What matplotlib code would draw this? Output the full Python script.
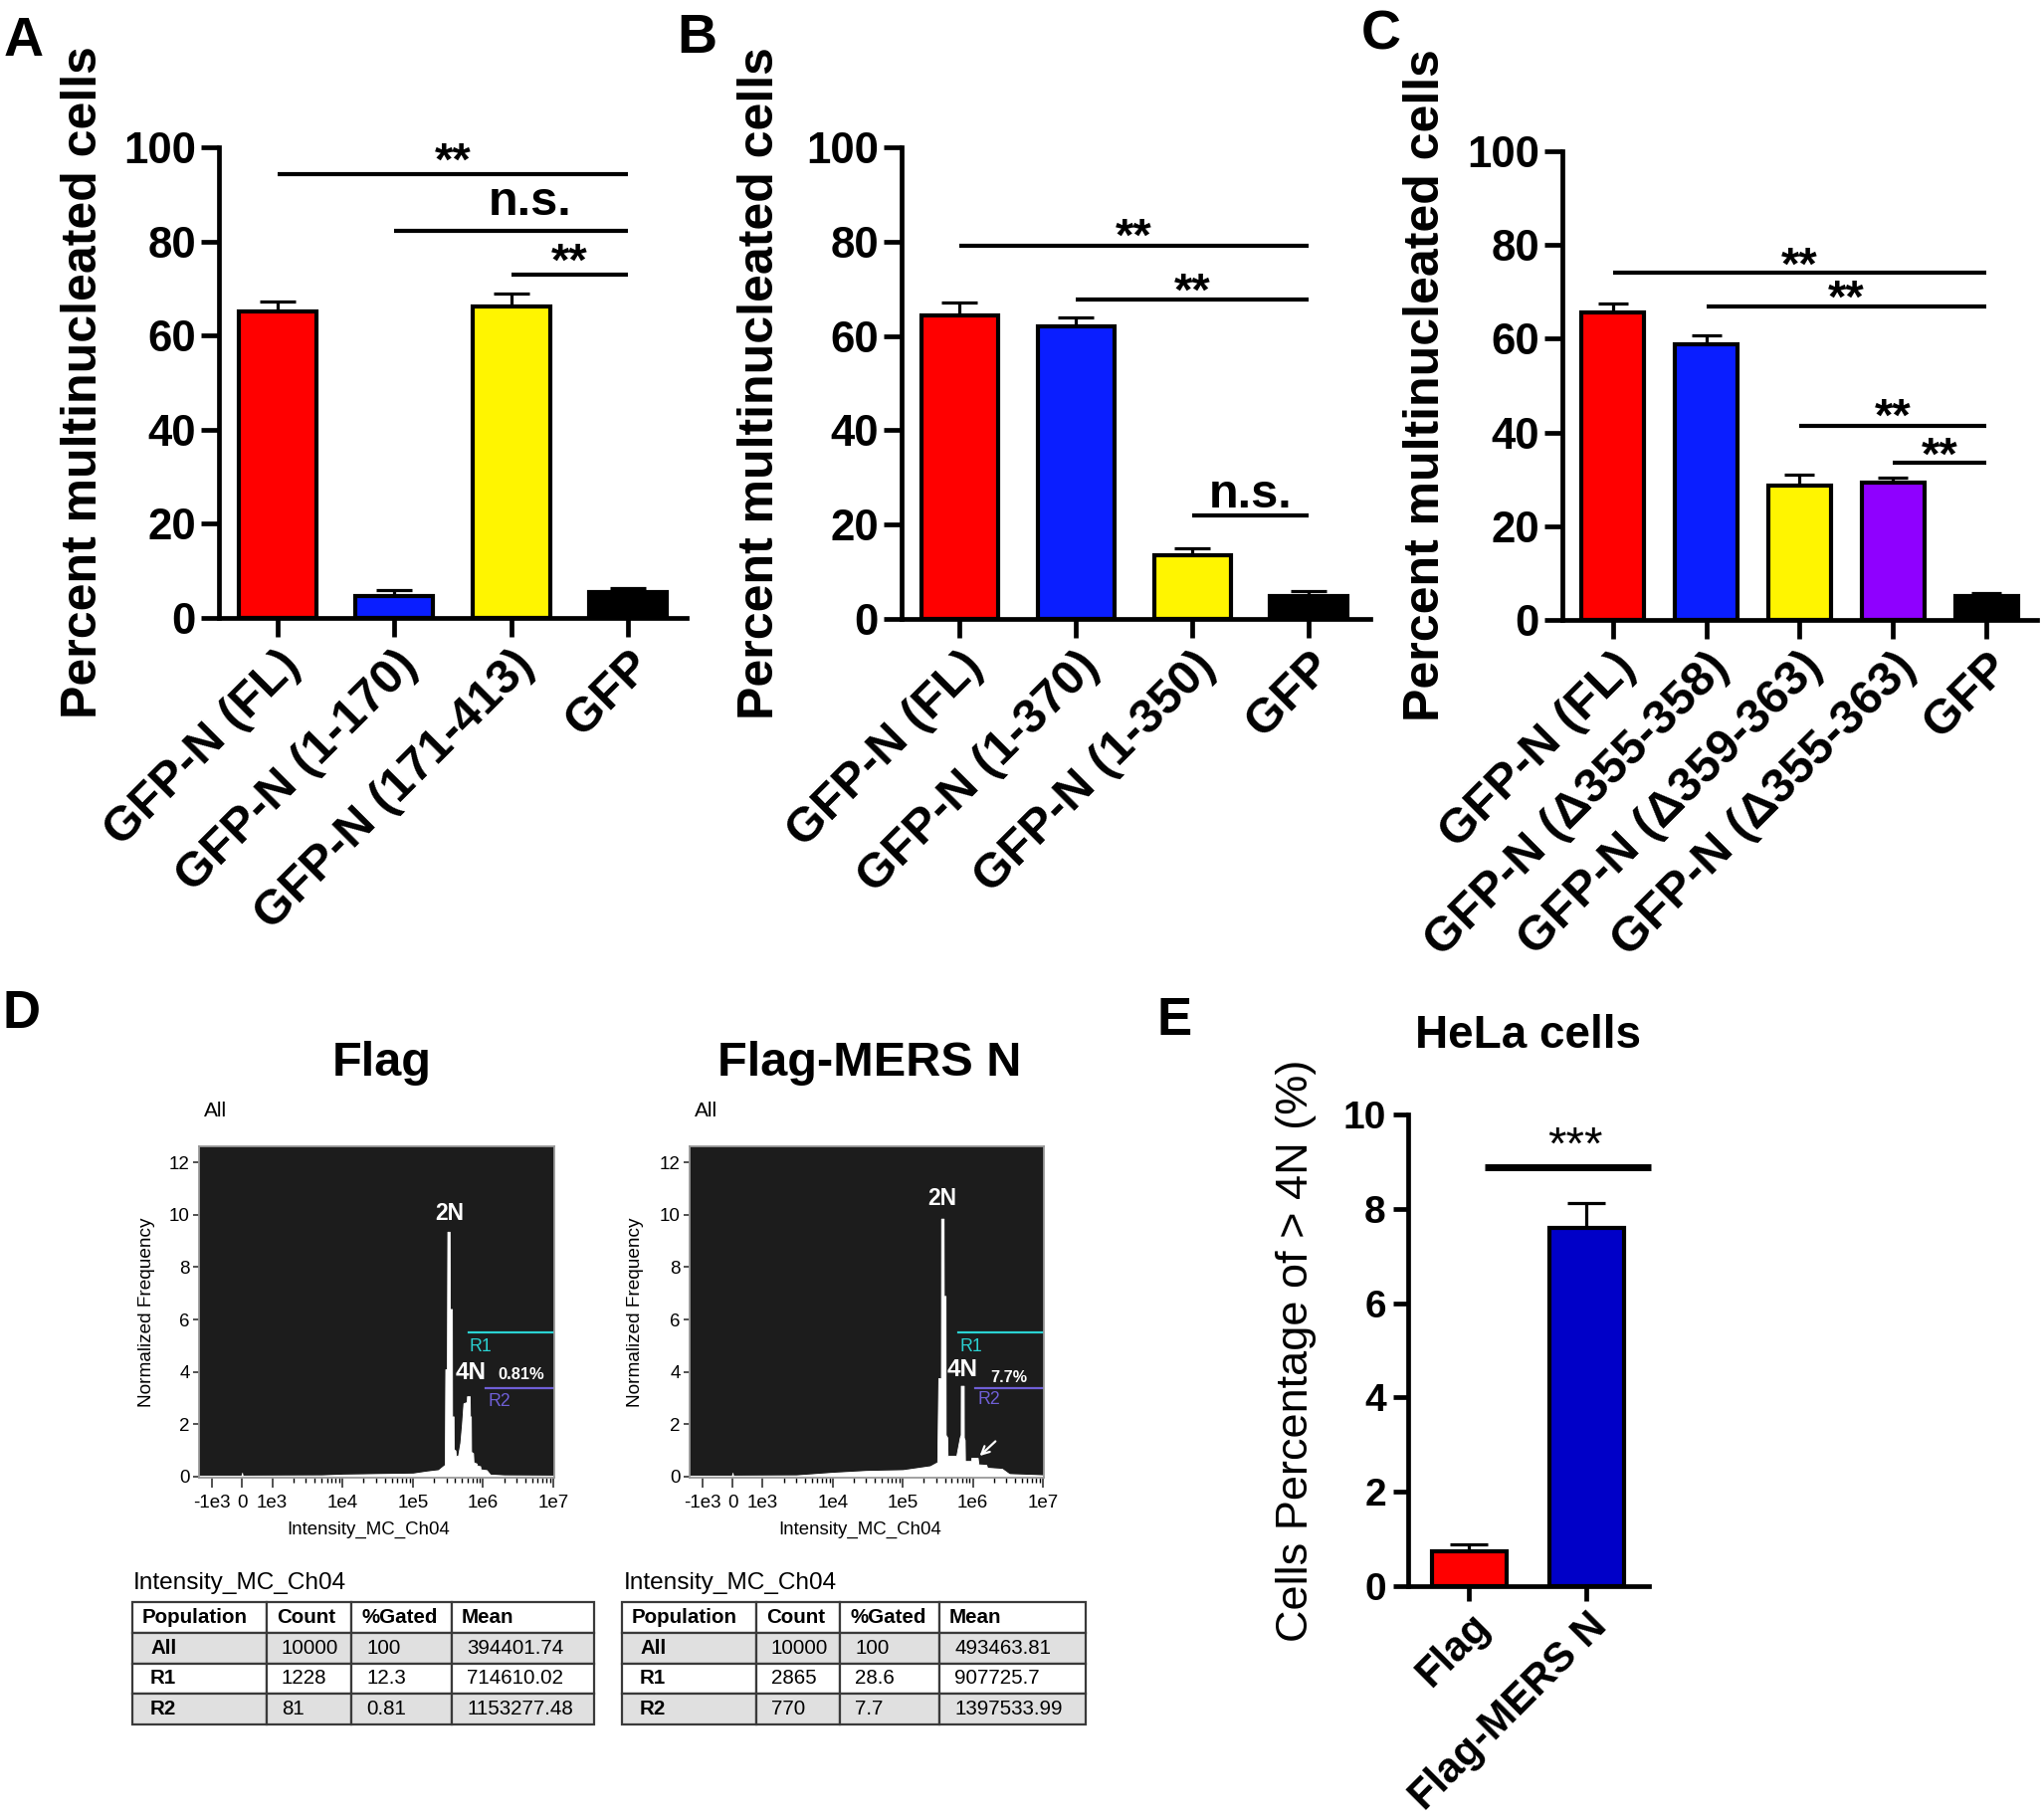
import numpy as np
import matplotlib
matplotlib.use('Agg')
import matplotlib.pyplot as plt

plt.rcParams['font.family'] = ['Liberation Sans', 'DejaVu Sans']

W, H = 2054, 1825

# ---- panel A
a_labels = ['GFP-N (FL)', 'GFP-N (1-170)', 'GFP-N (171-413)', 'GFP']
a_vals = [65.1, 4.6, 66.2, 5.5]
a_errs = [2.2, 1.4, 2.8, 0.8]
a_colors = ['#ff0000', '#0a1eff', '#fff500', '#000000']
# (from bar, to bar, line height, text)
a_sig = [(0, 3, 94.2, '**'), (1, 3, 82.3, 'n.s.'), (2, 3, 72.9, '**')]

# ---- panel B
b_labels = ['GFP-N (FL)', 'GFP-N (1-370)', 'GFP-N (1-350)', 'GFP']
b_vals = [64.4, 62.0, 13.5, 4.8]
b_errs = [2.7, 1.9, 1.5, 1.1]
b_colors = ['#ff0000', '#0a1eff', '#fff500', '#000000']
b_sig = [(0, 3, 79.1, '**'), (1, 3, 67.8, '**'), (2, 3, 21.9, 'n.s.')]

# ---- panel C
c_labels = ['GFP-N (FL)', 'GFP-N (\u0394355-358)', 'GFP-N (\u0394359-363)',
            'GFP-N (\u0394355-363)', 'GFP']
c_vals = [65.5, 58.8, 28.7, 29.3, 5.0]
c_errs = [2.1, 2.0, 2.2, 1.0, 0.7]
c_colors = ['#ff0000', '#0a1eff', '#fff500', '#8f00ff', '#000000']
c_sig = [(0, 4, 74.2, '**'), (1, 4, 66.9, '**'), (2, 4, 41.5, '**'), (3, 4, 33.5, '**')]

# ---- panel E
e_labels = ['Flag', 'Flag-MERS N']
e_vals = [0.74, 7.60]
e_errs = [0.14, 0.52]
e_colors = ['#ff0000', '#0000c8']

# ---- panel D histograms (intensity, normalized frequency)
flag_x = [-1.6e3, -20, 0, 20, 5e3, 1e4, 3e4, 1e5, 1.6e5, 2.3e5, 2.7e5, 2.85e5,
          2.9e5, 3.05e5, 3.1e5, 3.34e5, 3.36e5, 3.6e5, 3.62e5, 3.8e5, 3.82e5,
          4.04e5, 4.1e5, 4.4e5, 4.74e5, 5.0e5, 5.25e5, 5.85e5, 5.9e5, 6.45e5,
          6.5e5, 6.7e5, 6.75e5, 7.2e5, 7.3e5, 8.1e5, 8.2e5, 9.1e5, 9.2e5,
          1.12e6, 1.26e6, 2e6, 1.1e7]
flag_y = [0.04, 0.04, 0.15, 0.04, 0.05, 0.08, 0.1, 0.12, 0.2, 0.25, 0.4, 0.45,
          4.1, 4.1, 9.35, 9.35, 6.4, 6.4, 2.3, 2.3, 1.05,
          1.0, 0.8, 0.8, 1.3, 2.0, 2.8, 2.85, 3.07, 3.07,
          2.3, 2.3, 0.95, 0.9, 0.55, 0.5, 0.42, 0.4, 0.28,
          0.25, 0.08, 0.05, 0.04]
mers_x = [-1.6e3, -20, 0, 20, 3e3, 1e4, 3e4, 1e5, 2.45e5, 3.1e5, 3.21e5, 3.5e5,
          3.52e5, 3.82e5, 3.84e5, 4.07e5, 4.09e5, 4.3e5, 4.35e5, 5.8e5, 6.5e5,
          6.7e5, 6.72e5, 7.4e5, 7.42e5, 7.64e5, 7.7e5, 9.4e5, 9.5e5, 1.17e6,
          1.2e6, 1.55e6, 1.6e6, 2.6e6, 3.3e6, 1.1e7]
mers_y = [0.04, 0.04, 0.15, 0.04, 0.05, 0.15, 0.22, 0.25, 0.4, 0.55, 3.76, 3.76,
          9.85, 9.85, 6.9, 6.9, 1.6, 1.5, 0.8, 0.8, 1.5,
          1.6, 3.47, 3.47, 1.5, 1.4, 0.6, 0.6, 0.72, 0.72,
          0.47, 0.45, 0.34, 0.3, 0.1, 0.05]
hist_ticks = [-1e3, 0, 1e3, 1e4, 1e5, 1e6, 1e7]
hist_ticklabels = ['-1e3', '0', '1e3', '1e4', '1e5', '1e6', '1e7']

# ---- tables
table_header = ['Population', 'Count', '%Gated', 'Mean']
flag_table = [['All', '10000', '100', '394401.74'],
              ['R1', '1228', '12.3', '714610.02'],
              ['R2', '81', '0.81', '1153277.48']]
mers_table = [['All', '10000', '100', '493463.81'],
              ['R1', '2865', '28.6', '907725.7'],
              ['R2', '770', '7.7', '1397533.99']]

fig = plt.figure(figsize=(W / 100, H / 100), dpi=100)


def axes_px(l, t, r, b):
    return fig.add_axes([l / W, 1 - b / H, (r - l) / W, (b - t) / H])


def sig_text(ax, x, y, txt, fs, weight='bold'):
    # y is where the centre of the glyphs should sit
    k = 0.26 if txt == 'n.s.' else 0.42
    ax.annotate(txt, xy=(x, y), xytext=(0, -k * fs), textcoords='offset points',
                ha='center', va='baseline', fontsize=fs, fontweight=weight,
                annotation_clip=False)


def bar_panel(ax, labels, vals, errs, colors, width, xlim, ymax, ylab, ylab_x,
              fs_tick=31.5, fs_xlab=35, fs_ylab=36, ylab_weight='bold',
              tlen=(14, 13), ypad=3.6, capsize=13):
    x = np.arange(len(vals))
    ax.errorbar(x, vals, yerr=[np.zeros(len(errs)), errs], fmt='none',
                ecolor='black', elinewidth=2.3, capsize=capsize, capthick=2.3,
                zorder=1)
    ax.bar(x, vals, width=width, color=colors, edgecolor='black',
           linewidth=3, zorder=2)
    ax.set_xlim(*xlim)
    ax.set_ylim(0, ymax)
    for s in ['top', 'right']:
        ax.spines[s].set_visible(False)
    for s in ['left', 'bottom']:
        ax.spines[s].set_linewidth(3.4)
    ax.set_xticks(x)
    ax.set_xticklabels(labels, rotation=45, ha='right', rotation_mode='anchor',
                       fontsize=fs_xlab, fontweight='bold')
    ax.tick_params(axis='both', width=3.4, direction='out')
    ax.tick_params(axis='x', length=tlen[0], pad=3.6)
    ax.tick_params(axis='y', length=tlen[1], pad=ypad, labelsize=fs_tick)
    for t in ax.get_yticklabels():
        t.set_fontweight('bold')
    ax.set_ylabel(ylab, fontsize=fs_ylab, fontweight=ylab_weight)
    ax.yaxis.set_label_coords(ylab_x, 0.5)


def sig_lines(ax, sig):
    for x0, x1, y, txt in sig:
        ax.plot([x0, x1], [y, y], color='black', lw=3, clip_on=False,
                solid_capstyle='butt')


ylab_bar = 'Percent multinucleated cells'

# A
axA = axes_px(220, 148, 690, 621)
bar_panel(axA, a_labels, a_vals, a_errs, a_colors, 0.66, (-0.5, 3.5), 100,
          ylab_bar, -0.240)
axA.set_yticks(range(0, 101, 20))
sig_lines(axA, a_sig)
sig_text(axA, 1.5, 98.4, '**', 34)
sig_text(axA, 2.16, 88.2, 'n.s.', 35)
sig_text(axA, 2.5, 77.0, '**', 34)

# B
axB = axes_px(906, 148, 1377, 622)
bar_panel(axB, b_labels, b_vals, b_errs, b_colors, 0.66, (-0.5, 3.53), 100,
          ylab_bar, -0.253)
axB.set_yticks(range(0, 101, 20))
sig_lines(axB, b_sig)
sig_text(axB, 1.5, 82.3, '**', 34)
sig_text(axB, 2.0, 70.8, '**', 34)
sig_text(axB, 2.5, 26.4, 'n.s.', 35)

# C
axC = axes_px(1570, 152, 2047, 623)
bar_panel(axC, c_labels, c_vals, c_errs, c_colors, 0.67, (-0.54, 4.54), 100,
          ylab_bar, -0.239, capsize=11)
axC.set_yticks(range(0, 101, 20))
sig_lines(axC, c_sig)
sig_text(axC, 2.0, 76.9, '**', 34)
sig_text(axC, 2.5, 69.8, '**', 34)
sig_text(axC, 3.0, 44.6, '**', 34)
sig_text(axC, 3.5, 36.4, '**', 34)

# E
axE = axes_px(1415, 1120, 1657, 1594)
bar_panel(axE, e_labels, e_vals, e_errs, e_colors, 0.64, (-0.52, 1.53), 10,
          'Cells Percentage of > 4N (%)', -0.38, fs_tick=28, fs_xlab=30,
          fs_ylab=32.5, ylab_weight='normal', tlen=(11, 11), ypad=5, capsize=14)
axE.set_yticks(range(0, 11, 2))
axE.plot([0.13, 1.55], [8.88, 8.88], color='black', lw=5, clip_on=False,
         solid_capstyle='butt')
sig_text(axE, 0.9, 9.47, '***', 34, weight='normal')
fig.text(1535 / W, 1 - 1053 / H, 'HeLa cells', ha='center', va='baseline',
         fontsize=33, fontweight='bold')


# D histograms
def hist_panel(ax, xs, ys, ylab_x, xlab_x, marks, arrow=None):
    ax.set_facecolor('#1c1c1c')
    ax.set_xscale('symlog', linthresh=1e3, linscale=0.387)
    ax.fill_between(xs, -0.3, ys, color='white', lw=0.6, edgecolor='white')
    ax.set_xlim(-1.52e3, 1.03e7)
    ax.set_ylim(-0.04, 12.61)
    for s in ax.spines.values():
        s.set_color('#9a9a9a')
        s.set_linewidth(1.3)
    ax.set_xticks(hist_ticks, hist_ticklabels)
    minor = [m * 10 ** d for d in range(3, 7) for m in range(2, 10)]
    ax.set_xticks(minor, minor=True)
    ax.set_yticks(range(0, 13, 2))
    ax.tick_params(labelsize=13.5, color='#333333', width=1.2)
    ax.tick_params(axis='x', which='major', length=7, pad=5)
    ax.tick_params(axis='x', which='minor', length=3.5, width=1)
    ax.tick_params(axis='y', length=4.5, pad=2)
    ax.set_xlabel('Intensity_MC_Ch04', fontsize=13.4)
    ax.xaxis.set_label_coords(xlab_x, -0.132)
    ax.set_ylabel('Normalized Frequency', fontsize=13.7)
    ax.yaxis.set_label_coords(ylab_x, 0.5)
    ax.plot([6.2e5, 1.03e7], [5.51, 5.51], color='#2ad2d2', lw=1.6)
    ax.plot([1.07e6, 1.03e7], [3.38, 3.38], color='#6f5fd6', lw=1.6)
    for txt, x, y, fs, wt, col in marks:
        ax.text(x, y, txt, ha='center', va='center', fontsize=fs,
                fontweight=wt, color=col)
    if arrow is not None:
        ax.annotate('', xy=arrow[0], xytext=arrow[1],
                    arrowprops=dict(arrowstyle='->', color='white', lw=1.6,
                                    mutation_scale=14))


axD1 = axes_px(200, 1152, 557, 1485)
hist_panel(axD1, flag_x, flag_y, -0.123, 0.476,
           [('2N', 3.36e5, 10.06, 16.5, 'bold', 'white'),
            ('R1', 9.2e5, 4.97, 12.8, 'normal', '#2ad2d2'),
            ('4N', 6.7e5, 3.98, 17.5, 'bold', 'white'),
            ('0.81%', 3.5e6, 3.89, 11.9, 'bold', 'white'),
            ('R2', 1.7e6, 2.86, 12.8, 'normal', '#6f5fd6')])
axD2 = axes_px(693, 1152, 1049, 1485)
hist_panel(axD2, mers_x, mers_y, -0.129, 0.48,
           [('2N', 3.66e5, 10.6, 16.5, 'bold', 'white'),
            ('R1', 9.5e5, 4.97, 12.8, 'normal', '#2ad2d2'),
            ('4N', 7.1e5, 4.08, 17.5, 'bold', 'white'),
            ('7.7%', 3.3e6, 3.77, 11.6, 'bold', 'white'),
            ('R2', 1.68e6, 2.93, 12.8, 'normal', '#6f5fd6')],
           arrow=((1.17e6, 0.72), (2.24e6, 1.42)))

fig.text(384 / W, 1 - 1081 / H, 'Flag', ha='center', va='baseline',
         fontsize=35, fontweight='bold')
fig.text(874 / W, 1 - 1081 / H, 'Flag-MERS N', ha='center', va='baseline',
         fontsize=35, fontweight='bold')
fig.text(205 / W, 1 - 1122 / H, 'All', ha='left', va='baseline', fontsize=15)
fig.text(698 / W, 1 - 1122 / H, 'All', ha='left', va='baseline', fontsize=15)


# tables
def stats_table(l, r, col_px, rows, title_x):
    ax = axes_px(l, 1610, r, 1733)
    ax.axis('off')
    total = sum(col_px)
    tbl = ax.table(cellText=[table_header] + rows,
                   colWidths=[c / total for c in col_px],
                   bbox=[0, 0, 1, 1], cellLoc='left')
    tbl.auto_set_font_size(False)
    tbl.set_fontsize(14.8)
    for (i, j), cell in tbl.get_celld().items():
        cell.set_edgecolor('#3a3a3a')
        cell.set_linewidth(1.6)
        cell.set_facecolor('#e0e0e0' if i in (1, 3) else 'white')
        if i == 0:
            pad = 10
        elif j == 0:
            pad = 18
        else:
            pad = 15
        cell.PAD = pad / col_px[j]
        if i == 0 or j == 0:
            cell.get_text().set_fontweight('bold')
    fig.text(title_x / W, 1 - 1597 / H, 'Intensity_MC_Ch04', ha='left',
             va='baseline', fontsize=17.6)


stats_table(133, 597, [135, 85, 101, 143], flag_table, 134)
stats_table(625, 1091, [135, 84, 100, 147], mers_table, 627)

# panel letters
for txt, x, y, fs in [('A', 4, 56, 40), ('B', 680, 53, 40), ('C', 1368, 50, 40),
                      ('D', 2, 1033, 38), ('E', 1163, 1040, 38)]:
    fig.text(x / W, 1 - y / H, txt, ha='left', va='baseline', fontsize=fs,
             fontweight='bold')

fig.savefig('out.png', dpi=100)
